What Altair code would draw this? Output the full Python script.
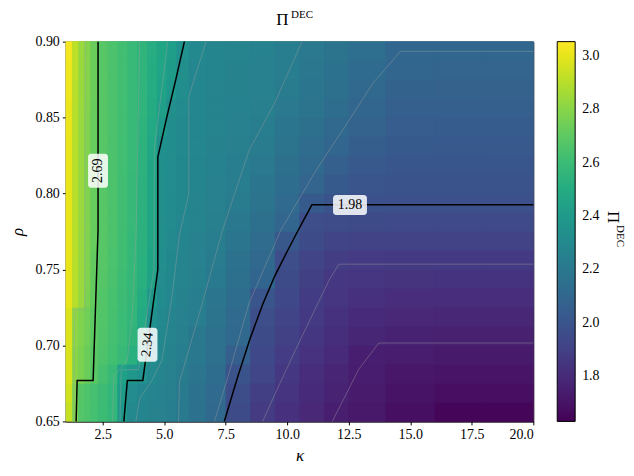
import altair as alt
import pandas as pd

# ---- heat-map grid (rows from rho=0.65 upward) ----
kappa_edges = [1.0, 1.25, 1.5, 1.75, 2.0, 2.3, 2.7, 3.1, 3.5, 3.9, 4.3, 4.7, 5.1, 5.5,
               6.0, 6.7, 7.5, 8.5, 9.5, 10.5, 11.5, 12.5, 14.0, 16.0, 18.0, 20.0]
rho_edges = [0.65, 0.6625, 0.675, 0.6875, 0.70, 0.7125, 0.725, 0.7375, 0.75, 0.7625, 0.775,
             0.7875, 0.80, 0.8125, 0.825, 0.8375, 0.85, 0.8625, 0.875, 0.8875, 0.90]

pi_r00 = [2.93, 2.78, 2.674, 2.654, 2.632, 2.604, 2.57, 2.39, 2.30, 2.273, 2.259, 2.245, 2.23, 2.208, 2.162, 2.105, 1.948, 1.873, 1.827, 1.787, 1.746, 1.72, 1.684, 1.645, 1.65]
pi_r01 = [2.95, 2.78, 2.675, 2.655, 2.633, 2.605, 2.572, 2.41, 2.315, 2.283, 2.27, 2.255, 2.235, 2.21, 2.167, 2.12, 1.96, 1.893, 1.842, 1.80, 1.762, 1.73, 1.70, 1.678, 1.678]
pi_r02 = [2.97, 2.80, 2.77, 2.73, 2.687, 2.635, 2.59, 2.44, 2.39, 2.35, 2.30, 2.265, 2.245, 2.218, 2.18, 2.135, 1.99, 1.925, 1.855, 1.81, 1.776, 1.735, 1.715, 1.703, 1.703]
pi_r03 = [2.97, 2.80, 2.77, 2.73, 2.69, 2.66, 2.625, 2.59, 2.53, 2.44, 2.32, 2.285, 2.26, 2.232, 2.20, 2.16, 2.06, 1.935, 1.876, 1.835, 1.80, 1.75, 1.735, 1.728, 1.728]
pi_r04 = [2.98, 2.81, 2.78, 2.745, 2.70, 2.665, 2.63, 2.60, 2.56, 2.47, 2.33, 2.294, 2.266, 2.238, 2.20, 2.157, 2.11, 1.95, 1.90, 1.85, 1.815, 1.78, 1.76, 1.755, 1.755]
pi_r05 = [2.98, 2.81, 2.78, 2.745, 2.70, 2.67, 2.635, 2.60, 2.57, 2.49, 2.34, 2.30, 2.27, 2.25, 2.225, 2.175, 2.12, 1.965, 1.92, 1.865, 1.83, 1.80, 1.787, 1.783, 1.783]
pi_r06 = [3.00, 2.90, 2.84, 2.77, 2.71, 2.67, 2.64, 2.605, 2.575, 2.51, 2.40, 2.31, 2.28, 2.26, 2.232, 2.19, 2.135, 2.00, 1.935, 1.88, 1.845, 1.825, 1.813, 1.811, 1.811]
pi_r07 = [3.00, 2.90, 2.84, 2.78, 2.71, 2.675, 2.645, 2.61, 2.58, 2.53, 2.45, 2.316, 2.29, 2.265, 2.24, 2.21, 2.15, 2.09, 1.95, 1.895, 1.855, 1.845, 1.841, 1.84, 1.84]
pi_r08 = [3.00, 2.90, 2.84, 2.78, 2.71, 2.68, 2.647, 2.615, 2.58, 2.535, 2.46, 2.325, 2.295, 2.27, 2.245, 2.215, 2.165, 2.11, 1.965, 1.915, 1.885, 1.875, 1.871, 1.87, 1.87]
pi_r09 = [3.00, 2.90, 2.84, 2.78, 2.72, 2.68, 2.65, 2.615, 2.58, 2.54, 2.47, 2.33, 2.30, 2.275, 2.25, 2.224, 2.18, 2.13, 2.02, 1.95, 1.92, 1.91, 1.908, 1.908, 1.908]
pi_r10 = [3.00, 2.90, 2.84, 2.78, 2.72, 2.68, 2.65, 2.615, 2.585, 2.54, 2.47, 2.33, 2.305, 2.28, 2.265, 2.237, 2.20, 2.15, 2.095, 1.965, 1.952, 1.948, 1.946, 1.946, 1.946]
pi_r11 = [3.00, 2.90, 2.84, 2.78, 2.72, 2.68, 2.65, 2.617, 2.587, 2.54, 2.47, 2.33, 2.31, 2.29, 2.27, 2.245, 2.215, 2.17, 2.115, 2.03, 1.99, 1.983, 1.981, 1.981, 1.981]
pi_r12 = [3.00, 2.90, 2.84, 2.78, 2.72, 2.68, 2.65, 2.617, 2.587, 2.54, 2.47, 2.33, 2.315, 2.29, 2.272, 2.25, 2.225, 2.19, 2.135, 2.085, 2.03, 2.005, 1.998, 1.996, 1.996]
pi_r13 = [3.00, 2.90, 2.84, 2.78, 2.72, 2.68, 2.65, 2.62, 2.59, 2.545, 2.475, 2.335, 2.318, 2.295, 2.275, 2.255, 2.23, 2.205, 2.155, 2.11, 2.06, 2.025, 2.013, 2.011, 2.011]
pi_r14 = [3.00, 2.90, 2.84, 2.78, 2.72, 2.68, 2.65, 2.62, 2.59, 2.545, 2.48, 2.335, 2.32, 2.30, 2.28, 2.26, 2.238, 2.215, 2.17, 2.13, 2.095, 2.05, 2.03, 2.026, 2.026]
pi_r15 = [3.01, 2.90, 2.84, 2.78, 2.72, 2.68, 2.65, 2.62, 2.59, 2.55, 2.49, 2.40, 2.32, 2.30, 2.278, 2.265, 2.245, 2.225, 2.19, 2.15, 2.11, 2.075, 2.045, 2.041, 2.041]
pi_r16 = [3.01, 2.90, 2.84, 2.785, 2.725, 2.68, 2.65, 2.62, 2.59, 2.555, 2.50, 2.43, 2.33, 2.305, 2.28, 2.27, 2.255, 2.237, 2.205, 2.17, 2.135, 2.095, 2.06, 2.056, 2.056]
pi_r17 = [3.02, 2.90, 2.84, 2.79, 2.73, 2.68, 2.65, 2.62, 2.59, 2.555, 2.505, 2.45, 2.39, 2.32, 2.282, 2.27, 2.26, 2.245, 2.215, 2.185, 2.15, 2.105, 2.078, 2.071, 2.071]
pi_r18 = [3.02, 2.91, 2.84, 2.79, 2.73, 2.68, 2.65, 2.62, 2.59, 2.557, 2.51, 2.465, 2.41, 2.33, 2.28, 2.272, 2.263, 2.25, 2.225, 2.195, 2.165, 2.125, 2.092, 2.085, 2.085]
pi_r19 = [3.03, 2.91, 2.84, 2.79, 2.73, 2.68, 2.65, 2.62, 2.59, 2.56, 2.515, 2.47, 2.425, 2.345, 2.30, 2.275, 2.266, 2.255, 2.232, 2.205, 2.175, 2.14, 2.102, 2.10, 2.10]
pi_rows = [pi_r00, pi_r01, pi_r02, pi_r03, pi_r04, pi_r05, pi_r06, pi_r07, pi_r08, pi_r09,
           pi_r10, pi_r11, pi_r12, pi_r13, pi_r14, pi_r15, pi_r16, pi_r17, pi_r18, pi_r19]

# ---- labelled (black) contour lines ----
c269_k = [2.31, 2.31, 2.11, 1.46, 1.42]
c269_r = [0.90, 0.776, 0.677, 0.677, 0.65]
c234_k = [5.82, 5.47, 5.10, 4.74, 4.74, 4.13, 3.50, 3.36]
c234_r = [0.90, 0.875, 0.85, 0.824, 0.75, 0.677, 0.677, 0.65]
c198_k = [20.0, 11.0, 10.45, 10.0, 9.5, 9.0, 8.5, 8.0, 7.44]
c198_r = [0.7926, 0.7926, 0.776, 0.762, 0.746, 0.727, 0.705, 0.68, 0.65]

# ---- thin grey contour lines ----
gA_k = [6.70, 6.0, 6.0, 5.62, 5.3, 4.9, 4.5, 4.0, 3.85]
gA_r = [0.90, 0.864, 0.80, 0.773, 0.73, 0.69, 0.677, 0.665, 0.65]
gB_k = [10.6, 9.5, 8.45, 7.37, 6.5, 5.62, 5.58]
gB_r = [0.90, 0.86, 0.8285, 0.776, 0.725, 0.676, 0.65]
gC_k = [20.0, 14.6, 13.5, 12.5, 11.16, 9.74, 8.45, 7.6, 7.04]
gC_r = [0.8936, 0.8936, 0.873, 0.848, 0.815, 0.776, 0.728, 0.68, 0.65]
gD_k = [20.0, 12.1, 11.7, 10.48, 9.7, 9.0]
gD_r = [0.7535, 0.7535, 0.743, 0.702, 0.675, 0.65]
gE_k = [20.0, 13.72, 12.91, 11.83]
gE_r = [0.7016, 0.7016, 0.6844, 0.65]
gF_k = [4.0, 3.86, 3.7, 3.5, 2.95, 2.9]
gF_r = [0.90, 0.776, 0.72, 0.69, 0.68, 0.65]
gG_k = [5.14, 4.88, 4.6, 4.58, 3.95, 3.25, 3.2]
gG_r = [0.90, 0.866, 0.83, 0.75, 0.684, 0.684, 0.65]
gH_k = [1.8, 1.77, 1.36, 1.33]
gH_r = [0.90, 0.7235, 0.7235, 0.65]

# ---- contour labels ----
lab_text = ["2.69", "2.34", "1.98"]
lab_k = [2.31, 4.32, 12.55]
lab_r = [0.815, 0.7005, 0.7924]
lab_angle = [270, 277, 0]

x_ticks = [2.5, 5.0, 7.5, 10.0, 12.5, 15.0, 17.5, 20.0]
y_ticks = [0.65, 0.70, 0.75, 0.80, 0.85, 0.90]
cbar_ticks = [1.8, 2.0, 2.2, 2.4, 2.6, 2.8, 3.0]
title_main = "Π"
title_sup = "DEC"
x_title = "κ"
y_title = "ρ"

FONT = "Liberation Serif"

nk = len(kappa_edges) - 1
nr = len(rho_edges) - 1
cells, under = [], []
for i, row in enumerate(pi_rows):
    for j, v in enumerate(row):
        cells.append({"k0": kappa_edges[j], "k1": kappa_edges[j + 1],
                      "r0": rho_edges[i], "r1": rho_edges[i + 1], "v": v})
        # under-layer spanning into the next cell, so cell joins show no white seams
        under.append({"k0": kappa_edges[j], "k1": kappa_edges[min(j + 2, nk)],
                      "r0": rho_edges[i], "r1": rho_edges[min(i + 2, nr)], "v": v})
cells = pd.DataFrame(cells)
under = pd.DataFrame(under)


def lines_df(named):
    rows = []
    for name, ks, rs in named:
        for o, (k, r) in enumerate(zip(ks, rs)):
            rows.append({"line": name, "o": o, "k": k, "r": r})
    return pd.DataFrame(rows)


black_df = lines_df([("c269", c269_k, c269_r), ("c234", c234_k, c234_r), ("c198", c198_k, c198_r)])
grey_df = lines_df([("gA", gA_k, gA_r), ("gB", gB_k, gB_r), ("gC", gC_k, gC_r), ("gD", gD_k, gD_r),
                    ("gE", gE_k, gE_r), ("gF", gF_k, gF_r), ("gG", gG_k, gG_r), ("gH", gH_k, gH_r)])
lab_df = pd.DataFrame({"t": lab_text, "k": lab_k, "r": lab_r, "a": lab_angle})

xs = alt.Scale(domain=[1, 20], nice=False, zero=False)
ys = alt.Scale(domain=[0.65, 0.90], nice=False, zero=False)
cs = alt.Scale(scheme="viridis", domain=[1.632, 3.052])

xaxis = alt.Axis(values=x_ticks, format=".1f", title=x_title, titleFontStyle="italic",
                 titlePadding=6)
yaxis = alt.Axis(values=y_ticks, format=".2f", title=y_title, titleFontStyle="italic",
                 titlePadding=8)
legend = alt.Legend(
    type="gradient", direction="vertical",
    title=None, values=cbar_ticks, format=".1f", orient="right", offset=21,
    gradientLength=381, gradientThickness=18, gradientStrokeColor="black",
    gradientStrokeWidth=1, labelFont=FONT, labelFontSize=14, labelColor="black",
    labelOffset=7, padding=0, labelOverlap=False)


def heat_layer(df):
    return alt.Chart(df).mark_rect().encode(
        x=alt.X("k0:Q", scale=xs, axis=xaxis),
        x2="k1",
        y=alt.Y("r0:Q", scale=ys, axis=yaxis),
        y2="r1",
        color=alt.Color("v:Q", scale=cs, legend=legend),
    )


heat_under = heat_layer(under)
heat = heat_layer(cells)

grey = alt.Chart(grey_df).mark_line(color="#a0a0a0", strokeWidth=0.8, opacity=0.5).encode(
    x=alt.X("k:Q", scale=xs), y=alt.Y("r:Q", scale=ys), detail="line:N", order="o:Q")

black = alt.Chart(black_df).mark_line(color="black", strokeWidth=1.5).encode(
    x=alt.X("k:Q", scale=xs), y=alt.Y("r:Q", scale=ys), detail="line:N", order="o:Q")

box_v = alt.Chart(lab_df.iloc[:2]).mark_rect(width=20, height=34, cornerRadius=3,
                                             color="white", opacity=0.85).encode(
    x=alt.X("k:Q", scale=xs), y=alt.Y("r:Q", scale=ys))
box_h = alt.Chart(lab_df.iloc[2:]).mark_rect(width=34, height=20, cornerRadius=3,
                                             color="white", opacity=0.85).encode(
    x=alt.X("k:Q", scale=xs), y=alt.Y("r:Q", scale=ys))

labels = alt.Chart(lab_df).mark_text(font=FONT, fontSize=14, color="black",
                                     align="center", baseline="middle").encode(
    x=alt.X("k:Q", scale=xs), y=alt.Y("r:Q", scale=ys), text="t:N",
    angle=alt.Angle("a:Q", scale=None))

ttl = pd.DataFrame({"t": [title_main]})
sup = pd.DataFrame({"t": [title_sup]})
t_main = alt.Chart(ttl).mark_text(font=FONT, fontSize=17, color="black", align="left",
                                  baseline="alphabetic").encode(
    x=alt.value(211), y=alt.value(-17), text="t:N")
t_sup = alt.Chart(sup).mark_text(font=FONT, fontSize=11, color="black", align="left",
                                 baseline="alphabetic").encode(
    x=alt.value(226), y=alt.value(-24), text="t:N")
c_main = alt.Chart(ttl).mark_text(font=FONT, fontSize=17, color="black", align="left",
                                  baseline="alphabetic", angle=90).encode(
    x=alt.value(544), y=alt.value(170), text="t:N")
c_sup = alt.Chart(sup).mark_text(font=FONT, fontSize=11, color="black", align="left",
                                 baseline="alphabetic", angle=90).encode(
    x=alt.value(553), y=alt.value(184), text="t:N")

chart = alt.layer(heat_under, heat, grey, black, box_v, box_h, labels,
                  t_main, t_sup, c_main, c_sup).properties(
    width=469, height=381,
    padding={"left": 58, "top": 33, "right": 93, "bottom": 48},
    autosize=alt.AutoSizeParams(type="none"),
).configure_view(stroke="black", strokeWidth=1).configure_axis(
    grid=False, domainColor="black", domainWidth=1, tickColor="black", tickSize=3.5,
    labelFont=FONT, labelFontSize=14, labelColor="black", titleFont=FONT,
    titleFontSize=17, titleColor="black", titleFontWeight="normal", labelPadding=3,
)

chart.save("out.html", embed_options={"renderer": "svg", "actions": False})
